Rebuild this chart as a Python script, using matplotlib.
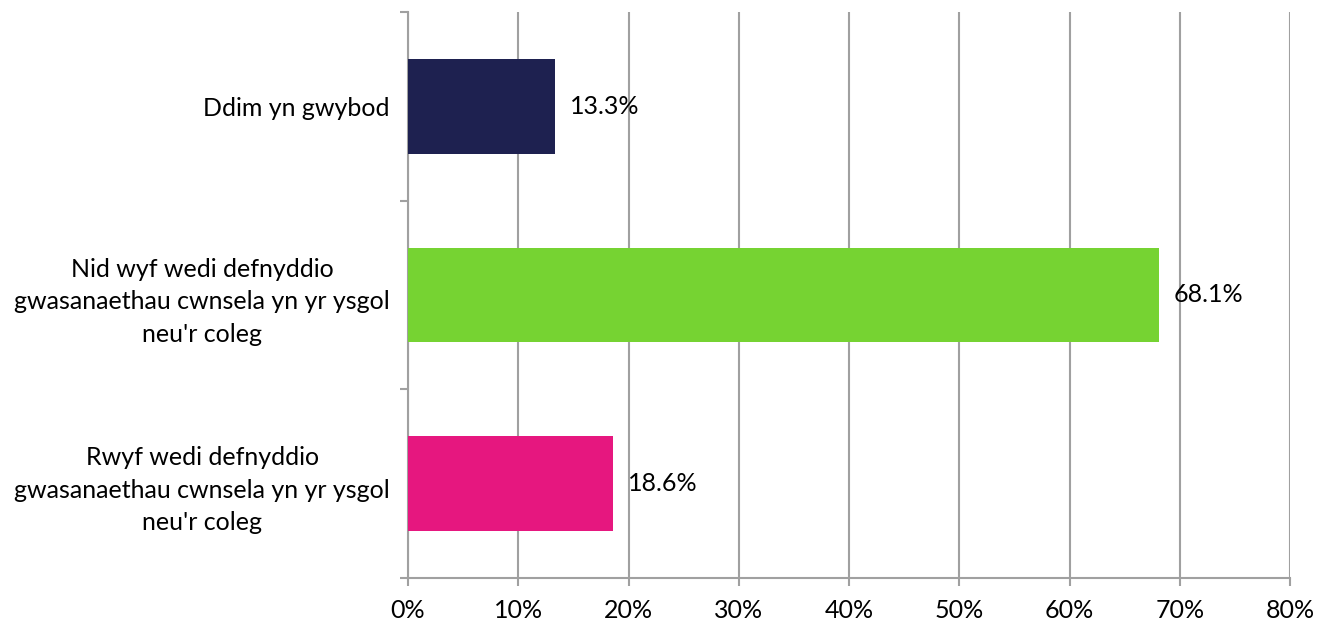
import matplotlib
matplotlib.use('Agg')
import matplotlib.pyplot as plt
from matplotlib.ticker import FixedLocator, PercentFormatter

# Data (bottom to top)
categories = [
    "Rwyf wedi defnyddio\ngwasanaethau cwnsela yn yr ysgol\nneu'r coleg",
    "Nid wyf wedi defnyddio\ngwasanaethau cwnsela yn yr ysgol\nneu'r coleg",
    "Ddim yn gwybod",
]
values = [18.6, 68.1, 13.3]
colors = ['#E6177F', '#76D332', '#1E2150']
xticks = [0, 10, 20, 30, 40, 50, 60, 70, 80]

plt.rcParams['font.family'] = ['Lato', 'DejaVu Sans']
plt.rcParams['font.size'] = 18

fig, ax = plt.subplots(figsize=(13.26, 6.23), dpi=100)
fig.subplots_adjust(left=408/1326, right=1290/1326, top=1-12/623, bottom=1-578/623)

ypos = range(len(categories))
bars = ax.barh(ypos, values, height=0.5, color=colors, zorder=3)

for y, v in zip(ypos, values):
    ax.annotate(f"{v:.1f}%", (v, y), xytext=(11, 0), textcoords='offset points',
                ha='left', va='center', fontsize=18, color='black', zorder=4)

ax.set_xlim(0, 80)
ax.set_ylim(-0.5, len(categories) - 0.5)
ax.set_xticks(xticks)
ax.xaxis.set_major_formatter(PercentFormatter(decimals=0))
ax.set_yticks(list(ypos))
ax.set_yticklabels(categories, multialignment='center', linespacing=1.5)
ax.yaxis.set_minor_locator(FixedLocator([-0.5, 0.5, 1.5, 2.5]))

gray = '#A0A0A0'
ax.grid(axis='x', color=gray, linewidth=1.5, zorder=0)
ax.tick_params(axis='y', which='major', length=0, pad=13)
ax.tick_params(axis='y', which='minor', length=6, width=1.5, color=gray)
ax.tick_params(axis='x', which='major', length=6, width=1.5, color=gray, pad=9)
for side in ['top', 'right']:
    ax.spines[side].set_visible(False)
for side in ['left', 'bottom']:
    ax.spines[side].set_color(gray)
    ax.spines[side].set_linewidth(1.5)

plt.savefig('out.png', dpi=100)
